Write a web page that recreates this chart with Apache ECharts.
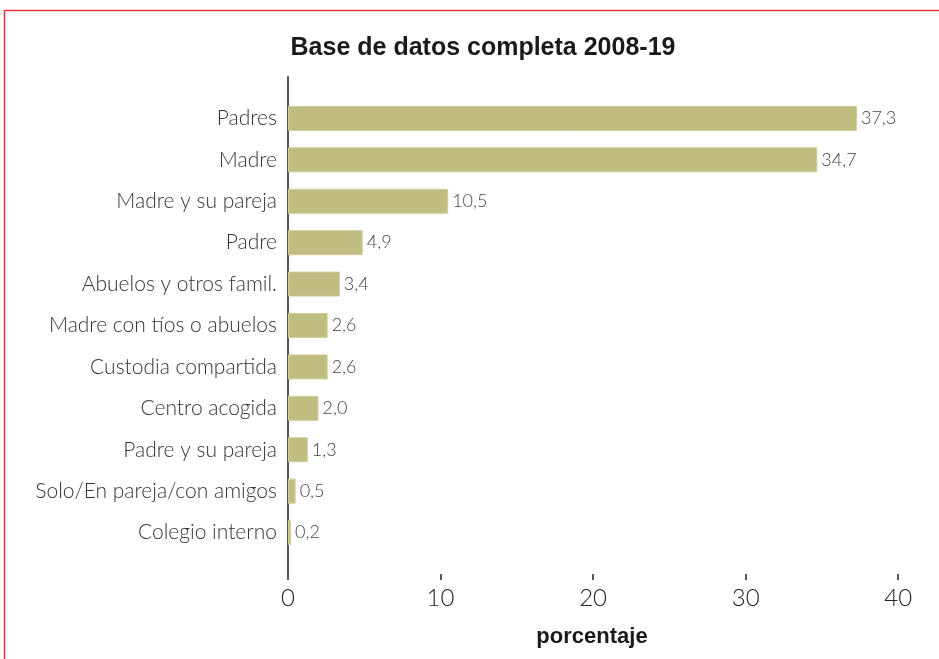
<!DOCTYPE html>
<html>
<head>
<meta charset="utf-8">
<script src="https://cdn.jsdelivr.net/npm/echarts@6/dist/echarts.min.js"></script>
<style>
  body { margin: 0; background: #fff; }
  #chart { width: 939px; height: 659px; }
</style>
</head>
<body>
<div id="chart"></div>
<script>
var categories = ['Padres', 'Madre', 'Madre y su pareja', 'Padre', 'Abuelos y otros famil.',
  'Madre con tíos o abuelos', 'Custodia compartida', 'Centro acogida', 'Padre y su pareja',
  'Solo/En pareja/con amigos', 'Colegio interno']
var values = [37.3, 34.7, 10.5, 4.9, 3.4, 2.6, 2.6, 2.0, 1.3, 0.5, 0.2]
var xTicks = [0, 10, 20, 30, 40]

// hueco vacio arriba y abajo para que el eje vertical sobresalga
var yCats = [''].concat(categories, [''])
var yData = [null].concat(values, [null])

var chart = echarts.init(document.getElementById('chart'))
var options = {
  animation: false,
  graphic: [
    {
      type: 'polyline',
      shape: { points: [[4.5, 700], [4.5, 10.5], [1000, 10.5]] },
      style: { fill: null, stroke: '#e8343e', lineWidth: 1.5 },
      silent: true
    }
  ],
  title: {
    text: 'Base de datos completa 2008-19',
    left: 478,
    textAlign: 'center',
    top: 31,
    textStyle: {
      fontFamily: 'Liberation Sans Narrow, Liberation Sans, sans-serif',
      fontWeight: 'bold',
      fontSize: 25,
      color: '#1a1a1a'
    }
  },
  grid: {
    left: 288,
    right: 21,
    top: 77,
    bottom: 85
  },
  xAxis: {
    type: 'value',
    min: 0,
    max: 41.3,
    interval: 10,
    name: 'porcentaje',
    nameLocation: 'middle',
    nameGap: 52,
    nameTextStyle: {
      fontFamily: 'Liberation Sans Narrow, Liberation Sans, sans-serif',
      fontWeight: 'bold',
      fontSize: 22,
      color: '#1a1a1a',
      padding: [0, 22, 0, 0]
    },
    axisLine: { lineStyle: { color: '#555', width: 2 } },
    axisTick: { show: true, length: 6, lineStyle: { color: '#555', width: 2 } },
    splitLine: { show: false },
    axisLabel: {
      margin: 12,
      fontFamily: 'Lato, sans-serif',
      fontWeight: 300,
      fontSize: 24,
      color: '#222',
      showMaxLabel: false,
      formatter: function (v) {
        return xTicks.indexOf(v) >= 0 ? String(v) : ''
      }
    }
  },
  yAxis: {
    type: 'category',
    data: yCats,
    inverse: true,
    boundaryGap: false,
    axisLine: { lineStyle: { color: '#555', width: 2 } },
    axisTick: { show: false },
    axisLabel: {
      margin: 11,
      fontFamily: 'Lato, sans-serif',
      fontWeight: 300,
      fontSize: 21,
      color: '#333'
    }
  },
  series: [
    {
      type: 'bar',
      data: yData,
      barWidth: 25,
      itemStyle: { color: '#c1bc80', borderColor: '#d2ce9c', borderWidth: 1 },
      label: {
        show: true,
        position: 'right',
        distance: 4,
        fontFamily: 'Lato, sans-serif',
        fontWeight: 300,
        fontSize: 18,
        color: '#444',
        formatter: function (p) {
          return p.value == null ? '' : p.value.toFixed(1).replace('.', ',')
        }
      }
    }
  ]
}
chart.setOption(options)
</script>
</body>
</html>
